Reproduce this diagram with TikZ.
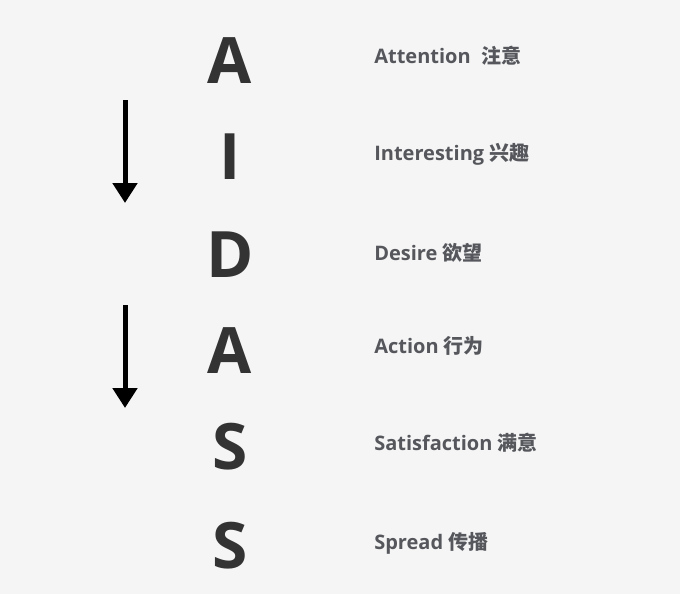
\documentclass[tikz,border=0pt]{standalone}
\usepackage{fontspec}
\setmainfont{Open Sans}
\newfontfamily\cjk{Noto Sans CJK SC}
\usetikzlibrary{arrows.meta}
\definecolor{bgGray}{RGB}{245,245,245}
\definecolor{letterGray}{RGB}{51,51,51}
\definecolor{labelGray}{RGB}{85,87,92}
\tikzset{
  bigletter/.style={anchor=base,inner sep=0pt,text=letterGray,font=\fontsize{48}{48}\selectfont\bfseries},
  steplabel/.style={anchor=base west,inner sep=0pt,text=labelGray,font=\fontsize{15}{15}\selectfont\bfseries},
  flowarrow/.style={line width=3.75pt,-{Triangle[width=18pt,length=15pt]}}
}
\begin{document}
\begin{tikzpicture}[x=0.75pt,y=0.75pt,yscale=-1,xscale=1]
%set diagram to 680 x 594
\fill[bgGray] (0,0) rectangle (680,594);
\useasboundingbox (0,0) rectangle (680,594);

% Letters
\node[bigletter] (A1) at (230,83) {A};
\node[bigletter] (I) at (230,179) {I};
\node[bigletter] (D) at (230,277) {D};
\node[bigletter] (A2) at (230,373) {A};
\node[bigletter] (S1) at (230,469) {S};
\node[bigletter] (S2) at (230,568) {S};

% Text Node
\node[steplabel] (lAttention) at (374,63) {Attention\ \ {\cjk 注意}};
\node[steplabel] (lInteresting) at (374,160) {Interesting {\cjk 兴趣}};
\node[steplabel] (lDesire) at (374,260) {Desire {\cjk 欲望}};
\node[steplabel] (lAction) at (374,353) {Action {\cjk 行为}};
\node[steplabel] (lSatisfaction) at (374,450) {Satisfaction {\cjk 满意}};
\node[steplabel] (lSpread) at (374,549) {Spread {\cjk 传播}};

%Arrows
\coordinate (arrOneTop) at (125,100);
\coordinate (arrOneEnd) at (125,203);
\coordinate (arrTwoTop) at (125,305);
\coordinate (arrTwoEnd) at (125,408);
\draw[flowarrow] (arrOneTop) -- (arrOneEnd);
\draw[flowarrow] (arrTwoTop) -- (arrTwoEnd);

\end{tikzpicture}
\end{document}
